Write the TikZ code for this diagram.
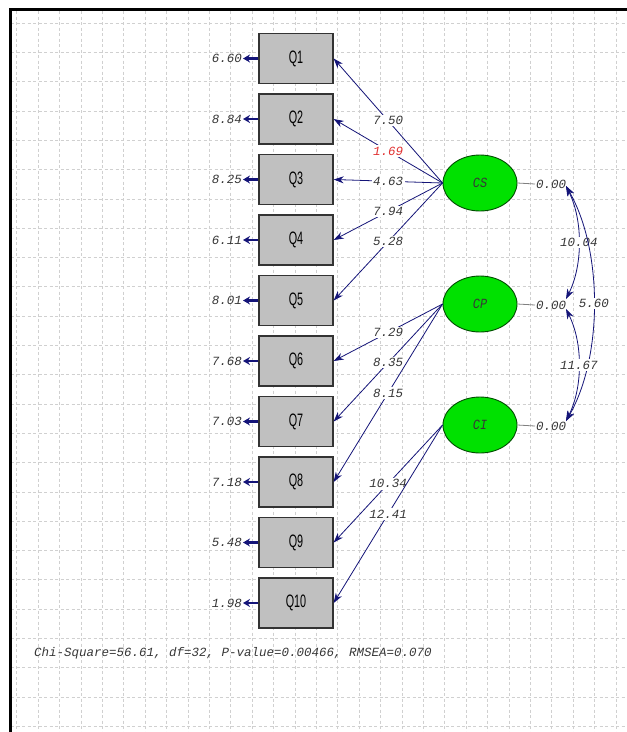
\documentclass[tikz,border=0pt]{standalone}
\usepackage{fontspec}
\usepackage{graphicx}
\setmainfont{Liberation Serif}
\newfontfamily\lmono{Liberation Mono}
\newfontfamily\qsans{Liberation Sans}
\usetikzlibrary{arrows.meta,shapes.geometric}
\definecolor{navy}{RGB}{20,20,120}
\definecolor{txt}{RGB}{55,55,55}
\definecolor{gridc}{RGB}{208,208,208}
\definecolor{boxgray}{RGB}{192,192,192}
\definecolor{latgreen}{RGB}{0,225,0}
\definecolor{redlab}{RGB}{225,50,50}
\tikzset{
  gridline/.style={draw=gridc, line width=0.6pt, dash pattern=on 3pt off 2.5pt},
  qbox/.style={draw=black!80, line width=1.3pt, fill=boxgray, minimum width=74pt, minimum height=50pt, inner sep=0pt},
  latent/.style={ellipse, draw=black!70!green, line width=0.9pt, fill=latgreen, minimum width=74pt, minimum height=56pt, inner sep=0pt, text=txt, font=\lmono\itshape\fontsize{14}{14}\selectfont},
  lab/.style={text=txt, inner sep=1pt, font=\lmono\itshape\fontsize{12.5}{13}\selectfont},
  loadlab/.style={lab, fill=white, inner sep=1.5pt},
  errarrow/.style={draw=navy, line width=2.4pt, -{Stealth[length=7pt,width=8pt]}},
  load/.style={draw=navy, line width=0.8pt, -{Stealth[length=10pt,width=7pt]}},
  covarc/.style={draw=navy, line width=0.8pt, {Stealth[length=10pt,width=7pt]}-{Stealth[length=10pt,width=7pt]}},
  varline/.style={draw=gray, line width=0.8pt}
}
\newcommand{\qlab}[1]{{\qsans\fontsize{18}{18}\selectfont\scalebox{0.6}[1]{#1}}}
\newcommand{\latlab}[1]{\scalebox{0.85}[1]{#1}}
\begin{document}
\begin{tikzpicture}[x=1pt,y=-1pt]
\useasboundingbox (0,0) rectangle (627,732);
\fill[white] (0,0) rectangle (627,732);
% grid
\foreach \i in {0,...,24} { \draw[gridline] (11,{23+29.3*\i}) -- (627,{23+29.3*\i}); }
\foreach \k in {0,...,28} { \draw[gridline] ({16.7+21.4*\k},11) -- ({16.7+21.4*\k},732); }
% frame
\draw[line width=3pt, black] (10,732) -- (10,9.5) -- (627,9.5);
% observed variables
\foreach \i/\e in {1/6.60,2/8.84,3/8.25,4/6.11,5/8.01,6/7.68,7/7.03,8/7.18,9/5.48,10/1.98} {
  \node[qbox] (Q\i) at (296,{58.5+60.5*(\i-1)}) {\qlab{Q\i}};
  \node[lab, anchor=east] (E\i) at (243,{58.5+60.5*(\i-1)}) {\e};
  \draw[errarrow] (Q\i.west) -- (E\i.east);
}
% latent variables
\node[latent] (CS) at (480,183) {\latlab{CS}};
\node[latent] (CP) at (480,304) {\latlab{CP}};
\node[latent] (CI) at (480,425) {\latlab{CI}};
\node[lab, anchor=west] (vCS) at (535,184) {0.00};
\node[lab, anchor=west] (vCP) at (535,305) {0.00};
\node[lab, anchor=west] (vCI) at (535,426) {0.00};
\draw[varline] (CS.east) -- (vCS.west);
\draw[varline] (CP.east) -- (vCP.west);
\draw[varline] (CI.east) -- (vCI.west);
% loadings
\draw[load] (CS.west) -- node[loadlab] {7.50} (Q1.east);
\draw[load] (CS.west) -- node[loadlab, text=redlab] {1.69} (Q2.east);
\draw[load] (CS.west) -- node[loadlab] {4.63} (Q3.east);
\draw[load] (CS.west) -- node[loadlab] {7.94} (Q4.east);
\draw[load] (CS.west) -- node[loadlab] {5.28} (Q5.east);
\draw[load] (CP.west) -- node[loadlab] {7.29} (Q6.east);
\draw[load] (CP.west) -- node[loadlab] {8.35} (Q7.east);
\draw[load] (CP.west) -- node[loadlab] {8.15} (Q8.east);
\draw[load] (CI.west) -- node[loadlab] {10.34} (Q9.east);
\draw[load] (CI.west) -- node[loadlab] {12.41} (Q10.east);
% covariances
\coordinate (csA) at (566,186);
\coordinate (cpA) at (566,299);
\coordinate (cpB) at (566,309);
\coordinate (ciA) at (566,421);
\draw[covarc] (csA) .. controls (583,220) and (583,265) .. node[loadlab, pos=0.5] {10.04} (cpA);
\draw[covarc] (csA) .. controls (603,250) and (603,357) .. node[loadlab, pos=0.5] {5.60} (ciA);
\draw[covarc] (cpB) .. controls (583,343) and (583,387) .. node[loadlab, pos=0.5] {11.67} (ciA);
% fit statistics
\node[lab, anchor=west] (fit) at (33,653) {Chi-Square=56.61, df=32, P-value=0.00466, RMSEA=0.070};
\end{tikzpicture}
\end{document}
